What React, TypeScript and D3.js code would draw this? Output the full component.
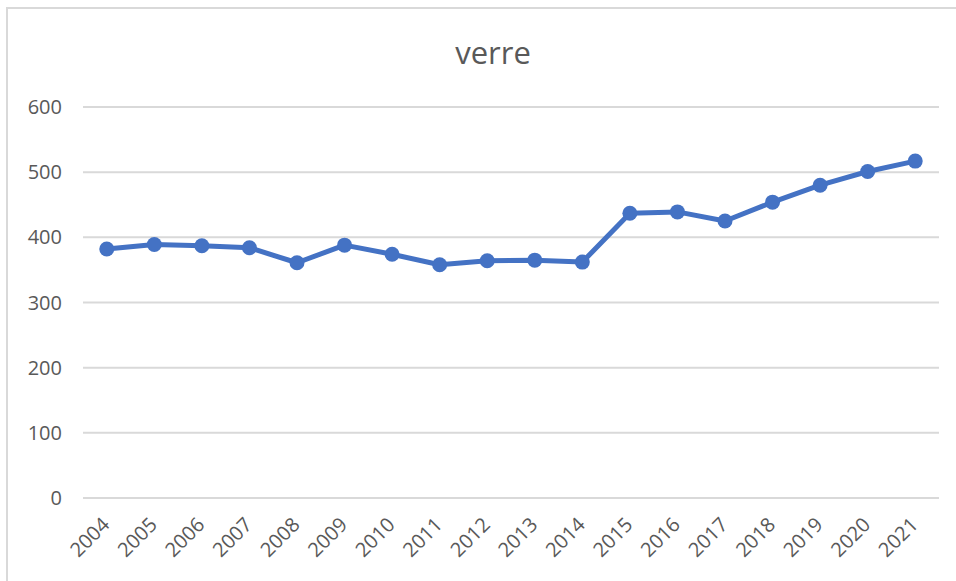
import { useEffect, useRef } from 'react';
import * as d3 from 'd3';

const years = [
  '2004', '2005', '2006', '2007', '2008', '2009', '2010', '2011', '2012',
  '2013', '2014', '2015', '2016', '2017', '2018', '2019', '2020', '2021',
];
const verre = [382, 389, 387, 384, 361, 388, 374, 358, 364, 365, 362, 437, 439, 425, 454, 480, 501, 517];
const yTicks = [0, 100, 200, 300, 400, 500, 600];
const title = 'verre';

export default function App() {
  const svgRef = useRef<SVGSVGElement>(null);

  useEffect(() => {
    if (!svgRef.current) return;
    const svg = d3.select(svgRef.current);
    svg.selectAll('*').remove();

    const width = 956;
    const height = 581;
    const font = '"Open Sans", "Segoe UI", sans-serif';
    const textColor = '#595959';
    const gridColor = '#d9d9d9';

    svg.append('rect')
      .attr('width', width)
      .attr('height', height)
      .attr('fill', '#fff');

    // chart frame
    svg.append('rect')
      .attr('x', 7)
      .attr('y', 8)
      .attr('width', width + 20)
      .attr('height', height + 20)
      .attr('fill', '#fff')
      .attr('stroke', gridColor)
      .attr('stroke-width', 2);

    const xScale = d3.scaleBand().domain(years).range([83, 939]);
    const yScale = d3.scaleLinear().domain([0, 600]).range([498, 107]);
    const cx = (d: string) => (xScale(d) ?? 0) + xScale.bandwidth() / 2;

    // title
    svg.append('text')
      .attr('x', 493)
      .attr('y', 64)
      .attr('text-anchor', 'middle')
      .attr('font-family', font)
      .attr('font-size', 31)
      .attr('fill', textColor)
      .text(title);

    // gridlines + y labels
    const g = svg.append('g');
    yTicks.forEach((t) => {
      g.append('line')
        .attr('x1', 83)
        .attr('x2', 939)
        .attr('y1', yScale(t))
        .attr('y2', yScale(t))
        .attr('stroke', gridColor)
        .attr('stroke-width', 2);
      g.append('text')
        .attr('x', 62)
        .attr('y', yScale(t))
        .attr('dy', '0.35em')
        .attr('text-anchor', 'end')
        .attr('font-family', font)
        .attr('font-size', 20)
        .attr('fill', textColor)
        .text(t);
    });

    // x labels
    years.forEach((y) => {
      g.append('text')
        .attr('transform', `translate(${cx(y) + 4},${526}) rotate(-45)`)
        .attr('text-anchor', 'end')
        .attr('font-family', font)
        .attr('font-size', 20)
        .attr('fill', textColor)
        .text(y);
    });

    const line = d3.line<number>()
      .x((_, i) => cx(years[i]))
      .y((d) => yScale(d));

    g.append('path')
      .datum(verre)
      .attr('d', line)
      .attr('fill', 'none')
      .attr('stroke', '#4472c4')
      .attr('stroke-width', 5)
      .attr('stroke-linejoin', 'round');

    g.selectAll('circle')
      .data(verre)
      .enter()
      .append('circle')
      .attr('cx', (_, i) => cx(years[i]))
      .attr('cy', (d) => yScale(d))
      .attr('r', 7.5)
      .attr('fill', '#4472c4');
  }, []);

  return (
    <svg
      ref={svgRef}
      width={956}
      height={581}
      style={{ position: 'absolute', left: 0, top: 0, display: 'block' }}
    />
  );
}
